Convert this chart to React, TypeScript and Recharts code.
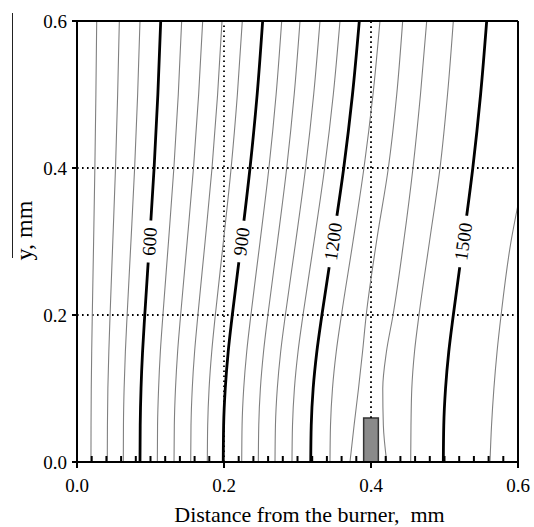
import { LineChart, Line, XAxis, YAxis, ReferenceLine, ReferenceArea, Label } from 'recharts';

const yLevels = [0, 0.05, 0.1, 0.15, 0.2, 0.3, 0.4, 0.5, 0.6];

// x positions (mm) of each isotherm at the yLevels above
const iso420 = [0.0190, 0.0191, 0.0194, 0.0200, 0.0208, 0.0226, 0.0243, 0.0257, 0.0268];
const iso480 = [0.0412, 0.0414, 0.0420, 0.0433, 0.0450, 0.0487, 0.0524, 0.0553, 0.0576];
const iso540 = [0.0630, 0.0632, 0.0641, 0.0658, 0.0682, 0.0734, 0.0784, 0.0825, 0.0857];
const iso600 = [0.0857, 0.0860, 0.0871, 0.0892, 0.0922, 0.0987, 0.1049, 0.1100, 0.1139];
const iso660 = [0.1093, 0.1096, 0.1110, 0.1134, 0.1169, 0.1245, 0.1318, 0.1378, 0.1424];
const iso720 = [0.1320, 0.1324, 0.1340, 0.1369, 0.1410, 0.1499, 0.1585, 0.1655, 0.1710];
const iso780 = [0.1547, 0.1551, 0.1568, 0.1600, 0.1645, 0.1743, 0.1837, 0.1913, 0.1973];
const iso840 = [0.1773, 0.1778, 0.1797, 0.1833, 0.1882, 0.1992, 0.2097, 0.2182, 0.2249];
const iso900 = [0.1990, 0.1995, 0.2017, 0.2057, 0.2113, 0.2237, 0.2354, 0.2451, 0.2526];
const iso960 = [0.2241, 0.2246, 0.2268, 0.2309, 0.2366, 0.2491, 0.2611, 0.2709, 0.2785];
const iso1020 = [0.2467, 0.2473, 0.2495, 0.2538, 0.2597, 0.2728, 0.2853, 0.2955, 0.3034];
const iso1080 = [0.2694, 0.2700, 0.2725, 0.2771, 0.2835, 0.2976, 0.3110, 0.3220, 0.3306];
const iso1140 = [0.2925, 0.2932, 0.2958, 0.3007, 0.3075, 0.3225, 0.3369, 0.3487, 0.3578];
const iso1200 = [0.3180, 0.3187, 0.3213, 0.3263, 0.3332, 0.3484, 0.3629, 0.3748, 0.3841];
const iso1260 = [0.3442, 0.3449, 0.3476, 0.3527, 0.3598, 0.3755, 0.3904, 0.4027, 0.4122];
const iso1320 = [0.3714, 0.3770, 0.3830, 0.3885, 0.3935, 0.4075, 0.4236, 0.4350, 0.4431];
const iso1380 = [0.4214, 0.4168, 0.4160, 0.4210, 0.4300, 0.4445, 0.4571, 0.4673, 0.4758];
const iso1440 = [0.4540, 0.4544, 0.4555, 0.4592, 0.4653, 0.4796, 0.4939, 0.5041, 0.5120];
const iso1500 = [0.4984, 0.4990, 0.5014, 0.5058, 0.5120, 0.5255, 0.5385, 0.5491, 0.5574];

// the 1560 line leaves the plot through the right edge
const iso1560Y = [0, 0.05, 0.1, 0.15, 0.2, 0.3, 0.35];
const iso1560 = [0.5619, 0.5640, 0.5672, 0.5715, 0.5770, 0.5905, 0.6];

const labelledLevels = [600, 900, 1200, 1500];
const labelAngles: Record<number, number> = { 600: -86, 900: -82.5, 1200: -82, 1500: -82 };
const LABEL_INDEX = 5; // y = 0.3

const xTicks = [
  0, 0.02, 0.04, 0.06, 0.08, 0.1, 0.12, 0.14, 0.16, 0.18,
  0.2, 0.22, 0.24, 0.26, 0.28, 0.3, 0.32, 0.34, 0.36, 0.38,
  0.4, 0.42, 0.44, 0.46, 0.48, 0.5, 0.52, 0.54, 0.56, 0.58, 0.6,
];
const xMajorTicks = [0, 0.2, 0.4, 0.6];
const yTicks = [0, 0.2, 0.4, 0.6];
const gridValues = [0.2, 0.4];

const contours = [
  { level: 420, xs: iso420, ys: yLevels },
  { level: 480, xs: iso480, ys: yLevels },
  { level: 540, xs: iso540, ys: yLevels },
  { level: 600, xs: iso600, ys: yLevels },
  { level: 660, xs: iso660, ys: yLevels },
  { level: 720, xs: iso720, ys: yLevels },
  { level: 780, xs: iso780, ys: yLevels },
  { level: 840, xs: iso840, ys: yLevels },
  { level: 900, xs: iso900, ys: yLevels },
  { level: 960, xs: iso960, ys: yLevels },
  { level: 1020, xs: iso1020, ys: yLevels },
  { level: 1080, xs: iso1080, ys: yLevels },
  { level: 1140, xs: iso1140, ys: yLevels },
  { level: 1200, xs: iso1200, ys: yLevels },
  { level: 1260, xs: iso1260, ys: yLevels },
  { level: 1320, xs: iso1320, ys: yLevels },
  { level: 1380, xs: iso1380, ys: yLevels },
  { level: 1440, xs: iso1440, ys: yLevels },
  { level: 1500, xs: iso1500, ys: yLevels },
  { level: 1560, xs: iso1560, ys: iso1560Y },
];

const FONT = "'Liberation Serif', 'Times New Roman', Times, serif";
const textStyle = { fontFamily: FONT };

const levelLabel = (level: number) => (props: any) => {
  if (props.index !== LABEL_INDEX) return null;
  const x = props.viewBox?.x ?? props.x;
  const y = props.viewBox?.y ?? props.y;
  const text = String(level);
  const w = text.length * 10 + 12;
  const angle = labelAngles[level];
  return (
    <g transform={`translate(${x},${y}) rotate(${angle})`}>
      <rect x={-w / 2} y={-8} width={w} height={16} fill="#fff" />
      <text x={0} y={0} textAnchor="middle" dominantBaseline="central" fontSize={19} style={textStyle} fill="#000">
        {text}
      </text>
    </g>
  );
};

const XTick = (props: any) => {
  const { x, y, payload } = props;
  const v = payload.value as number;
  const major = xMajorTicks.some((m) => Math.abs(m - v) < 1e-6);
  if (major) {
    return (
      <g>
        <line x1={x} y1={y} x2={x} y2={y + 6} stroke="#000" strokeWidth={2} />
        <text x={x} y={y + 30} textAnchor="middle" fontSize={19} style={textStyle} fill="#000">
          {v.toFixed(1)}
        </text>
      </g>
    );
  }
  return <line x1={x} y1={y} x2={x} y2={y - 6} stroke="#000" strokeWidth={2} />;
};

export default function App() {
  return (
    <div style={{ position: 'absolute', left: 0, top: 0, width: 534, height: 527, background: '#fff', fontFamily: FONT }}>
      <LineChart width={534} height={527} margin={{ top: 21, right: 16, left: 17, bottom: 5 }}>
        <XAxis
          dataKey="x"
          type="number"
          domain={[0, 0.6]}
          ticks={xTicks}
          interval={0}
          tickSize={0}
          tickMargin={0}
          tickLine={false}
          tick={<XTick />}
          axisLine={{ stroke: '#000', strokeWidth: 2 }}
          height={60}
        >
          <Label
            content={(p: any) => {
              const vb = p.viewBox;
              return (
                <text
                  x={vb.x + vb.width / 2 + 12}
                  y={vb.y + 60}
                  textAnchor="middle"
                  fontSize={22}
                  fill="#000"
                  style={{ whiteSpace: 'pre', fontFamily: FONT }}
                >
                  {'Distance from the burner,  mm'}
                </text>
              );
            }}
          />
        </XAxis>
        <YAxis
          type="number"
          domain={[0, 0.6]}
          ticks={yTicks}
          tickFormatter={(v: number) => v.toFixed(1)}
          tick={{ fontSize: 19, fill: '#000', style: textStyle }}
          tickSize={5}
          tickMargin={5}
          tickLine={{ stroke: '#000', strokeWidth: 2 }}
          axisLine={{ stroke: '#000', strokeWidth: 2 }}
          width={60}
        >
          <Label
            content={(p: any) => {
              const vb = p.viewBox;
              const cy = vb.y + vb.height / 2 - 11;
              return (
                <g>
                  <line x1={12.5} y1={13} x2={12.5} y2={258} stroke="#222" strokeWidth={1} />
                  <text
                    x={vb.x + 15}
                    y={cy}
                    transform={`rotate(-90, ${vb.x + 15}, ${cy})`}
                    textAnchor="middle"
                    fontSize={24}
                    fill="#000"
                    style={textStyle}
                  >
                    y, mm
                  </text>
                </g>
              );
            }}
          />
        </YAxis>

        {gridValues.map((v) => (
          <ReferenceLine key={`h${v}`} y={v} stroke="#000" strokeWidth={1.8} strokeDasharray="1.6 3.4" />
        ))}
        <ReferenceLine x={0.2} stroke="#000" strokeWidth={1.8} strokeDasharray="1.6 3.4" />
        <ReferenceLine
          segment={[{ x: 0.4, y: 0.06 }, { x: 0.4, y: 0.6 }]}
          stroke="#000"
          strokeWidth={1.8}
          strokeDasharray="1.6 3.4"
        />

        {contours.map((c) => {
          const major = labelledLevels.includes(c.level);
          const pts = c.xs.map((x, i) => ({ x, y: c.ys[i] }));
          return (
            <Line
              key={c.level}
              data={pts}
              dataKey="y"
              type="monotoneY"
              stroke={major ? '#000' : '#808080'}
              strokeWidth={major ? 2.8 : 1.1}
              dot={false}
              activeDot={false}
              isAnimationActive={false}
              label={major ? levelLabel(c.level) : false}
            />
          );
        })}

        <ReferenceArea x1={0.39} x2={0.41} y1={0} y2={0.06} fill="#8a8a8a" fillOpacity={1} stroke="#333" strokeWidth={1.5} />
        <ReferenceLine y={0.6} stroke="#000" strokeWidth={2} />
        <ReferenceLine x={0.6} stroke="#000" strokeWidth={2} />
      </LineChart>
    </div>
  );
}
